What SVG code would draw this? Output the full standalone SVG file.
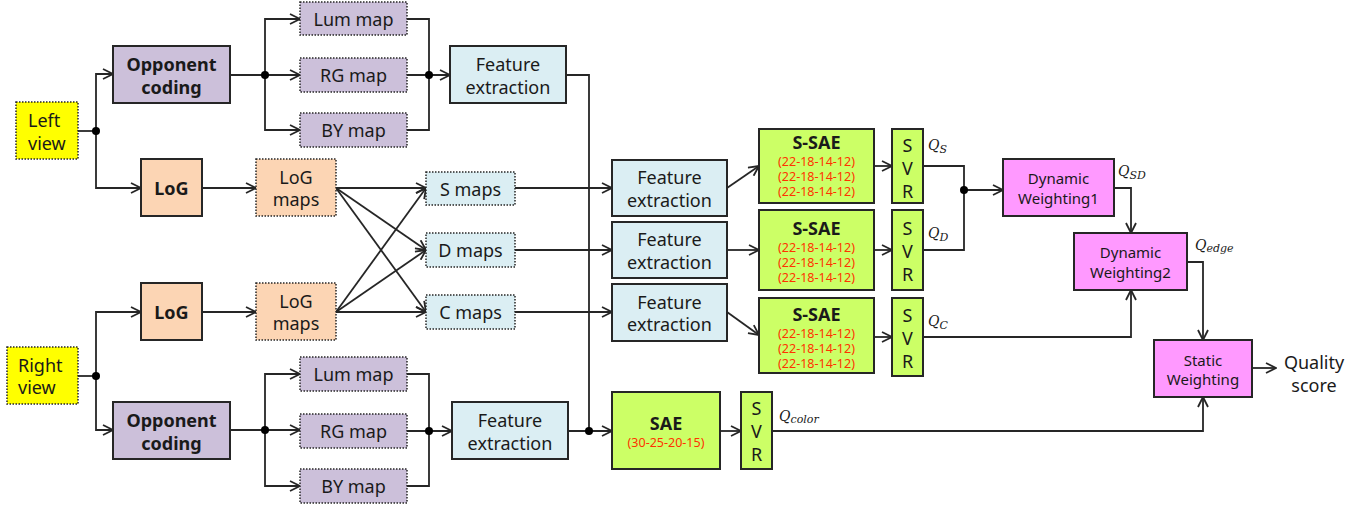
<svg xmlns="http://www.w3.org/2000/svg" width="1366" height="506" viewBox="0 0 1366 506">
  <style>
    .box { stroke: #262626; stroke-width: 2; }
    .dash { stroke: #262626; stroke-width: 1.5; stroke-dasharray: 1.5 1.5; }
    .yel { fill: #ffff00; }
    .pur { fill: #ccc0da; }
    .pch { fill: #fcd5b4; }
    .blu { fill: #dbeef3; }
    .grn { fill: #ccff66; }
    .pnk { fill: #ff99ff; }
    text { font-family: "Noto Sans", "Open Sans", sans-serif; font-size: 18px; fill: #1a1a1a; text-anchor: middle; }
    .st { text-anchor: start; }
    .b { font-weight: bold; }
    .red { font-size: 12.5px; fill: #ff3300; }
    .sm { font-size: 15px; }
    .q { font-family: "DejaVu Serif", "Liberation Serif", serif; font-style: italic; font-size: 14px; text-anchor: start; }
    .sub { font-size: 11px; }
    #connectors path { fill: none; stroke: #262626; stroke-width: 1.8; }
    .arr { marker-end: url(#arrow); }
    #connectors circle { fill: #000; }
  </style>
  <defs>
    <marker id="arrow" viewBox="0 0 12 12" refX="11" refY="6" markerWidth="12" markerHeight="12" markerUnits="userSpaceOnUse" orient="auto">
      <path d="M1,1 L11,6 L1,11" fill="none" stroke="#262626" stroke-width="1.8"/>
    </marker>
  </defs>
  <rect width="1366" height="506" fill="#ffffff"/>

  <!-- connectors -->
  <g id="connectors">
    <!-- left view branches -->
    <path d="M78,131 H96"/>
    <path class="arr" d="M96,131 V74 H113"/>
    <path class="arr" d="M96,131 V188 H141"/>
    <!-- right view branches -->
    <path d="M78,376 H96"/>
    <path class="arr" d="M96,376 V312 H141"/>
    <path class="arr" d="M96,376 V430 H113"/>
    <!-- opponent coding (top) to colour maps -->
    <path class="arr" d="M230,75 H300"/>
    <path class="arr" d="M265,75 V19 H300"/>
    <path class="arr" d="M265,75 V130 H300"/>
    <path d="M407,19 H429 V130 H407"/>
    <path class="arr" d="M407,75 H450"/>
    <!-- opponent coding (bottom) to colour maps -->
    <path class="arr" d="M230,430 H300"/>
    <path class="arr" d="M265,430 V374 H300"/>
    <path class="arr" d="M265,430 V486 H300"/>
    <path d="M407,374 H429 V486 H407"/>
    <path class="arr" d="M407,431 H452"/>
    <!-- colour features to SAE -->
    <path d="M566,75 H589 V431"/>
    <path class="arr" d="M568,431 H612"/>
    <!-- LoG -->
    <path class="arr" d="M202,188 H256"/>
    <path class="arr" d="M202,312 H256"/>
    <!-- LoG maps to S/D/C maps -->
    <path class="arr" d="M336,188 L426,188"/>
    <path class="arr" d="M336,188 L426,250"/>
    <path class="arr" d="M336,188 L426,312"/>
    <path class="arr" d="M336,312 L426,188"/>
    <path class="arr" d="M336,312 L426,250"/>
    <path class="arr" d="M336,312 L426,312"/>
    <!-- maps to feature extraction -->
    <path class="arr" d="M515,188 H612"/>
    <path class="arr" d="M515,250 H612"/>
    <path class="arr" d="M515,312 H612"/>
    <!-- feature extraction to S-SAE -->
    <path class="arr" d="M727,188 L759,166"/>
    <path class="arr" d="M727,250 H759"/>
    <path class="arr" d="M727,312 L759,335"/>
    <!-- S-SAE to SVR -->
    <path class="arr" d="M874,166 H892"/>
    <path class="arr" d="M874,250 H892"/>
    <path class="arr" d="M874,337 H892"/>
    <path class="arr" d="M720,431 H741"/>
    <!-- weighting -->
    <path d="M923,166 H964 V250 H923"/>
    <path class="arr" d="M964,190 H1003"/>
    <path class="arr" d="M1114,188 H1131 V233"/>
    <path class="arr" d="M923,337 H1131 V290"/>
    <path class="arr" d="M1187,262 H1203 V340"/>
    <path class="arr" d="M772,431 H1203 V397"/>
    <path class="arr" d="M1252,368 H1276"/>
    <!-- junction dots -->
    <circle cx="96" cy="131" r="4"/>
    <circle cx="96" cy="376" r="4"/>
    <circle cx="265" cy="75" r="4"/>
    <circle cx="429" cy="75" r="4"/>
    <circle cx="265" cy="430" r="4"/>
    <circle cx="429" cy="431" r="4"/>
    <circle cx="589" cy="431" r="4"/>
    <circle cx="964" cy="190" r="4"/>
  </g>

  <!-- inputs -->
  <g id="leftView">
    <rect class="dash yel" x="16" y="102" width="62" height="57"/>
    <text class="st" x="28" y="127">Left</text>
    <text class="st" x="28" y="150">view</text>
  </g>
  <g id="rightView">
    <rect class="dash yel" x="7" y="347" width="71" height="57"/>
    <text class="st" x="18" y="372">Right</text>
    <text class="st" x="18" y="394">view</text>
  </g>

  <!-- colour path, left -->
  <g id="opponentL">
    <rect class="box pur" x="113" y="46" width="117" height="57"/>
    <text class="b" x="171.5" y="71">Opponent</text>
    <text class="b" x="171.5" y="94">coding</text>
  </g>
  <g id="lumL"><rect class="dash pur" x="300" y="2" width="107" height="33"/><text x="353.5" y="26">Lum map</text></g>
  <g id="rgL"><rect class="dash pur" x="300" y="58" width="107" height="34"/><text x="353.5" y="82">RG map</text></g>
  <g id="byL"><rect class="dash pur" x="300" y="113" width="107" height="34"/><text x="353.5" y="137">BY map</text></g>
  <g id="featColorL">
    <rect class="box blu" x="450" y="46" width="116" height="57"/>
    <text x="508" y="71">Feature</text>
    <text x="508" y="94">extraction</text>
  </g>

  <!-- colour path, right -->
  <g id="opponentR">
    <rect class="box pur" x="113" y="402" width="117" height="57"/>
    <text class="b" x="171.5" y="427">Opponent</text>
    <text class="b" x="171.5" y="450">coding</text>
  </g>
  <g id="lumR"><rect class="dash pur" x="300" y="357" width="107" height="34"/><text x="353.5" y="381">Lum map</text></g>
  <g id="rgR"><rect class="dash pur" x="300" y="414" width="107" height="34"/><text x="353.5" y="438">RG map</text></g>
  <g id="byR"><rect class="dash pur" x="300" y="469" width="107" height="34"/><text x="353.5" y="493">BY map</text></g>
  <g id="featColorR">
    <rect class="box blu" x="452" y="402" width="116" height="57"/>
    <text x="510" y="427">Feature</text>
    <text x="510" y="450">extraction</text>
  </g>

  <!-- edge path -->
  <g id="logL"><rect class="box pch" x="141" y="159" width="61" height="57"/><text class="b" x="171.5" y="195">LoG</text></g>
  <g id="logR"><rect class="box pch" x="141" y="283" width="61" height="57"/><text class="b" x="171.5" y="319">LoG</text></g>
  <g id="logMapsL">
    <rect class="dash pch" x="256" y="159" width="80" height="57"/>
    <text x="296" y="183.5">LoG</text>
    <text x="296" y="206">maps</text>
  </g>
  <g id="logMapsR">
    <rect class="dash pch" x="256" y="283" width="80" height="57"/>
    <text x="296" y="307.5">LoG</text>
    <text x="296" y="330">maps</text>
  </g>
  <g id="sMaps"><rect class="dash blu" x="426" y="172" width="89" height="33"/><text x="470.5" y="196">S maps</text></g>
  <g id="dMaps"><rect class="dash blu" x="426" y="233" width="89" height="34"/><text x="470.5" y="257">D maps</text></g>
  <g id="cMaps"><rect class="dash blu" x="426" y="295" width="89" height="34"/><text x="470.5" y="319">C maps</text></g>

  <g id="featS">
    <rect class="box blu" x="612" y="160" width="115" height="56"/>
    <text x="669.5" y="184">Feature</text>
    <text x="669.5" y="206.5">extraction</text>
  </g>
  <g id="featD">
    <rect class="box blu" x="612" y="222" width="115" height="56"/>
    <text x="669.5" y="246">Feature</text>
    <text x="669.5" y="268.5">extraction</text>
  </g>
  <g id="featC">
    <rect class="box blu" x="612" y="284" width="115" height="57"/>
    <text x="669.5" y="308.5">Feature</text>
    <text x="669.5" y="331">extraction</text>
  </g>

  <!-- stacked autoencoders -->
  <g id="ssaeS">
    <rect class="box grn" x="759" y="129" width="115" height="74"/>
    <text class="b" x="816.5" y="148.5">S-SAE</text>
    <text class="red" x="816.5" y="165.5">(22-18-14-12)</text>
    <text class="red" x="816.5" y="180.5">(22-18-14-12)</text>
    <text class="red" x="816.5" y="195.5">(22-18-14-12)</text>
  </g>
  <g id="ssaeD">
    <rect class="box grn" x="759" y="210" width="115" height="80"/>
    <text class="b" x="816.5" y="234.5">S-SAE</text>
    <text class="red" x="816.5" y="251.5">(22-18-14-12)</text>
    <text class="red" x="816.5" y="266.5">(22-18-14-12)</text>
    <text class="red" x="816.5" y="281.5">(22-18-14-12)</text>
  </g>
  <g id="ssaeC">
    <rect class="box grn" x="759" y="298" width="115" height="75"/>
    <text class="b" x="816.5" y="320.5">S-SAE</text>
    <text class="red" x="816.5" y="338">(22-18-14-12)</text>
    <text class="red" x="816.5" y="353">(22-18-14-12)</text>
    <text class="red" x="816.5" y="368">(22-18-14-12)</text>
  </g>
  <g id="sae">
    <rect class="box grn" x="612" y="392" width="108" height="77"/>
    <text class="b" x="666" y="429.5">SAE</text>
    <text class="red" x="666" y="447">(30-25-20-15)</text>
  </g>

  <!-- regressors -->
  <g id="svrS">
    <rect class="box grn" x="892" y="129" width="31" height="74"/>
    <text x="907.5" y="152">S</text><text x="907.5" y="175">V</text><text x="907.5" y="197.5">R</text>
  </g>
  <g id="svrD">
    <rect class="box grn" x="892" y="210" width="31" height="80"/>
    <text x="907.5" y="235">S</text><text x="907.5" y="258">V</text><text x="907.5" y="281">R</text>
  </g>
  <g id="svrC">
    <rect class="box grn" x="892" y="298" width="31" height="78"/>
    <text x="907.5" y="322">S</text><text x="907.5" y="345">V</text><text x="907.5" y="368">R</text>
  </g>
  <g id="svrColor">
    <rect class="box grn" x="741" y="392" width="31" height="77"/>
    <text x="756.5" y="415">S</text><text x="756.5" y="438">V</text><text x="756.5" y="461">R</text>
  </g>

  <!-- quality labels -->
  <g id="labels">
    <text class="q" x="928" y="150">Q<tspan class="sub" dy="3">S</tspan></text>
    <text class="q" x="928" y="238">Q<tspan class="sub" dy="3">D</tspan></text>
    <text class="q" x="928" y="326">Q<tspan class="sub" dy="3">C</tspan></text>
    <text class="q" x="1118" y="176">Q<tspan class="sub" dy="3">SD</tspan></text>
    <text class="q" x="1195" y="250">Q<tspan class="sub" dy="2">edge</tspan></text>
    <text class="q" x="779" y="421">Q<tspan class="sub" dy="2">color</tspan></text>
  </g>

  <!-- weighting -->
  <g id="dynamic1">
    <rect class="box pnk" x="1003" y="159" width="111" height="57"/>
    <text class="sm" x="1058.5" y="183.5">Dynamic</text>
    <text class="sm" x="1058.5" y="204">Weighting1</text>
  </g>
  <g id="dynamic2">
    <rect class="box pnk" x="1074" y="233" width="113" height="57"/>
    <text class="sm" x="1130.5" y="257.5">Dynamic</text>
    <text class="sm" x="1130.5" y="277.5">Weighting2</text>
  </g>
  <g id="static">
    <rect class="box pnk" x="1154" y="340" width="98" height="57"/>
    <text class="sm" x="1203" y="365.5">Static</text>
    <text class="sm" x="1203" y="384.5">Weighting</text>
  </g>
  <g id="output">
    <text x="1314" y="369">Quality</text>
    <text x="1314" y="392">score</text>
  </g>
</svg>
